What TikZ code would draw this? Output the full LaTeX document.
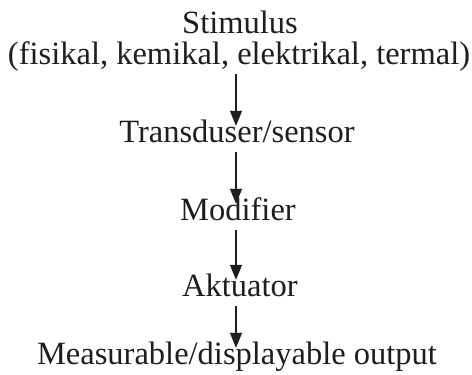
\documentclass[tikz,border=0pt]{standalone}
\usepackage{fontspec}
\setmainfont{Liberation Serif}
\usetikzlibrary{arrows.meta}
\definecolor{ink}{RGB}{30,30,30}
\begin{document}
\begin{tikzpicture}[x=1pt,y=-1pt,
  label/.style={anchor=base,inner sep=0pt,text=ink,font=\fontsize{32.5}{36}\selectfont,
    text height=22pt,text depth=7pt},
  flow/.style={draw=ink,line width=1.4pt,
    -{Triangle[width=12pt,length=15pt]},shorten <=3pt,shorten >=-6pt}]
\useasboundingbox (0,0) rectangle (472,375);
\node[label] (stim) at (240,33) {Stimulus};
\node[label] (kind) at (239,64) {(fisikal, kemikal, elektrikal, termal)};
\node[label] (sens) at (237,142) {Transduser/sensor};
\node[label] (modi) at (238,220) {Modifier};
\node[label] (aktu) at (240,296) {Aktuator};
\node[label] (outp) at (237,364) {Measurable/displayable output};
\draw[flow] (kind.south -| 236,0) -- (sens.north -| 236,0);
\draw[flow] (sens.south -| 236,0) -- (modi.north -| 236,0);
\draw[flow] (modi.south -| 236,0) -- (aktu.north -| 236,0);
\draw[flow] (aktu.south -| 236,0) -- (outp.north -| 236,0);
\end{tikzpicture}
\end{document}
